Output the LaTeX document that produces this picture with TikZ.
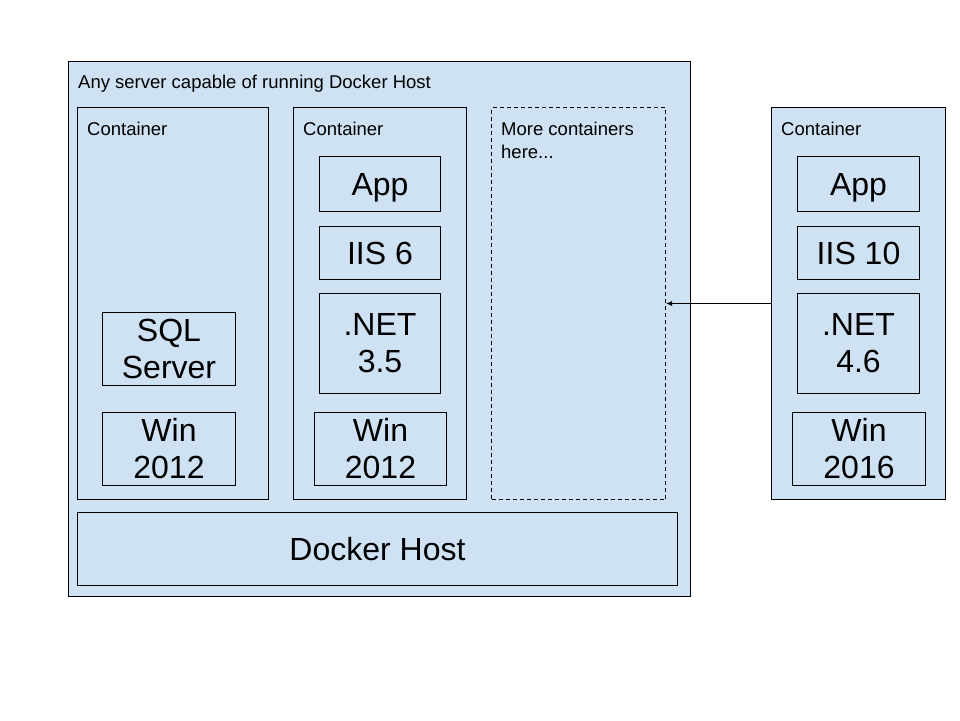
\documentclass[tikz,border=0pt]{standalone}
\usepackage{fontspec}
\setmainfont{Liberation Sans}
\usetikzlibrary{arrows.meta}
\definecolor{boxblue}{HTML}{CFE2F3}
\newcommand{\bigtext}{\fontsize{32}{37}\selectfont}
\newcommand{\smalltext}{\fontsize{18.5}{23}\selectfont}
\tikzset{
    box/.style={draw=black,fill=boxblue,line width=1pt,inner sep=0pt,anchor=north west,align=center,font=\bigtext},
    dashbox/.style={box,dash pattern=on 4pt off 3pt},
    title/.style={anchor=base west,inner sep=0pt,align=left,font=\smalltext},
    link/.style={draw=black,line width=1pt,-{Latex[length=6pt,width=5pt]}}
}
\begin{document}
\begin{tikzpicture}[x=1pt,y=-1pt]
    \useasboundingbox (0,0) rectangle (960,720);
    \node[box,minimum width=622pt,minimum height=535pt] (server) at (68,61) {};
    \node[box,minimum width=191pt,minimum height=392pt] (cont1) at (77,107) {};
    \node[box,minimum width=173pt,minimum height=392pt] (cont2) at (293,107) {};
    \node[dashbox,minimum width=174pt,minimum height=392pt] (more) at (491,107) {};
    \node[box,minimum width=174pt,minimum height=392pt] (cont3) at (771,107) {};
    \node[box,minimum width=600pt,minimum height=73pt] (host) at (77,512) {Docker Host};
    \node[box,minimum width=133pt,minimum height=73pt] (sql) at (102,312) {SQL\\Server};
    \node[box,minimum width=133pt,minimum height=73pt] (win1) at (102,412) {Win\\2012};
    \node[box,minimum width=121pt,minimum height=55pt,text depth=0pt] (app1) at (319,156) {App};
    \node[box,minimum width=121pt,minimum height=53pt] (iis1) at (319,226) {IIS 6};
    \node[box,minimum width=121pt,minimum height=100pt] (net1) at (319,293) {.NET\\3.5};
    \node[box,minimum width=132pt,minimum height=73pt] (win2) at (314,412) {Win\\2012};
    \node[box,minimum width=122pt,minimum height=55pt,text depth=0pt] (app2) at (797,156) {App};
    \node[box,minimum width=122pt,minimum height=53pt] (iis2) at (797,226) {IIS 10};
    \node[box,minimum width=122pt,minimum height=100pt] (net2) at (797,293) {.NET\\4.6};
    \node[box,minimum width=133pt,minimum height=73pt] (win3) at (792,412) {Win\\2016};
    \node[title] (servertitle) at (78,88) {Any server capable of running Docker Host};
    \node[title] (title1) at (87,135) {Container};
    \node[title] (title2) at (303,135) {Container};
    \node[title] (moretitle) at (501,158) {More containers\\here...};
    \node[title] (title3) at (781,135) {Container};
    \draw[link] (cont3.west) -- (more.east);
\end{tikzpicture}
\end{document}
